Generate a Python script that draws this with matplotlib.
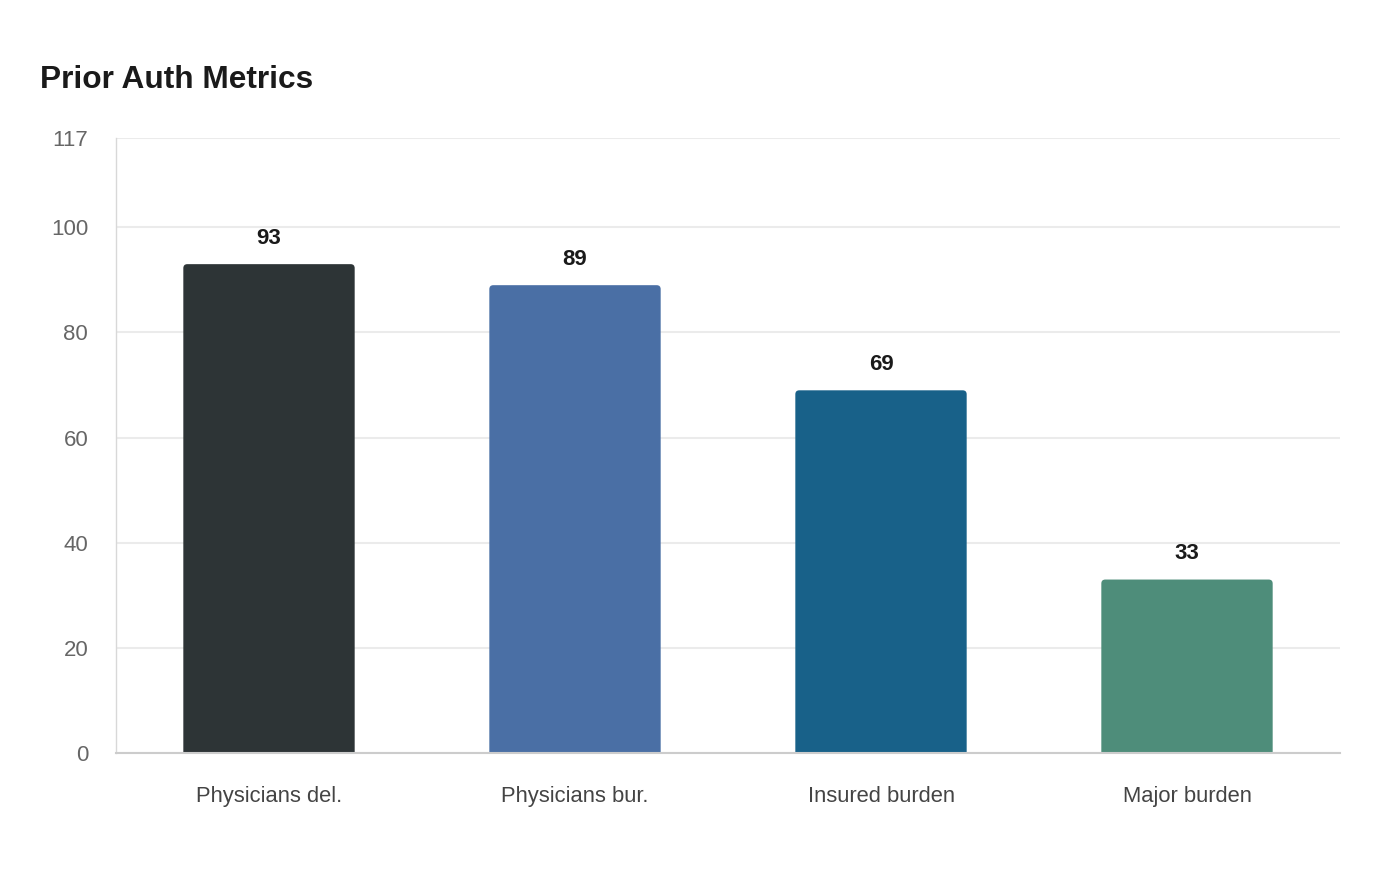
import matplotlib.pyplot as plt
from matplotlib.patches import FancyBboxPatch

categories = ['Physicians del.', 'Physicians bur.', 'Insured burden', 'Major burden']
values = [93, 89, 69, 33]
colors = ['#2d3436', '#4a6fa5', '#186189', '#4e8d7a']
y_ticks = [0, 20, 40, 60, 80, 100, 117]

plt.rcParams['font.family'] = ['Liberation Sans', 'DejaVu Sans']

fig = plt.figure(figsize=(14, 8.8), dpi=100)
ax = fig.add_axes([116 / 1400, 127 / 880, 1224 / 1400, 615 / 880])

ax.set_xlim(-0.5, len(categories) - 0.5)
ax.set_ylim(0, 117)

width = 0.56
# data units per pixel, for round corners
x_px = len(categories) / 1224
y_px = 117 / 615
aspect = y_px / x_px
radius = 4 * x_px
below = 10 * y_px  # push bottom corners under the axis so they get clipped

bars = ax.bar(range(len(categories)), values, width=width, color=colors, alpha=0)
for b, c, v in zip(bars, colors, values):
    x0 = b.get_x()
    rounded = FancyBboxPatch((x0, -below), width, v + below,
                             boxstyle=f"round,pad=0,rounding_size={radius}",
                             mutation_aspect=aspect, facecolor=c,
                             edgecolor='none', zorder=3)
    ax.add_patch(rounded)
    ax.annotate(str(v), (b.get_x() + width / 2, v), xytext=(0, 11),
                textcoords='offset points', ha='center', va='bottom',
                fontsize=16, fontweight='bold', color='#1a1a1a', zorder=4)

ax.set_xticks(range(len(categories)))
ax.set_xticklabels(categories)
ax.set_yticks(y_ticks)
ax.tick_params(axis='x', length=0, pad=23.5, labelsize=15.8, labelcolor='#444444')
ax.tick_params(axis='y', length=0, pad=20, labelsize=16, labelcolor='#666666')

ax.grid(axis='y', color='#ebebeb', linewidth=1.5, zorder=0)
ax.set_axisbelow(True)

for s in ['top', 'right']:
    ax.spines[s].set_visible(False)
ax.spines['bottom'].set_color('#cccccc')
ax.spines['bottom'].set_linewidth(1.5)
ax.spines['bottom'].set_zorder(5)
ax.spines['left'].set_color('#d8d8d8')
ax.spines['left'].set_linestyle((0, (1, 1)))
ax.spines['left'].set_linewidth(1)

fig.text(40 / 1400, 1 - 80 / 880, 'Prior Auth Metrics', fontsize=22.8,
         fontweight='bold', color='#1a1a1a', ha='left', va='center')

fig.savefig('out.png', dpi=100)
